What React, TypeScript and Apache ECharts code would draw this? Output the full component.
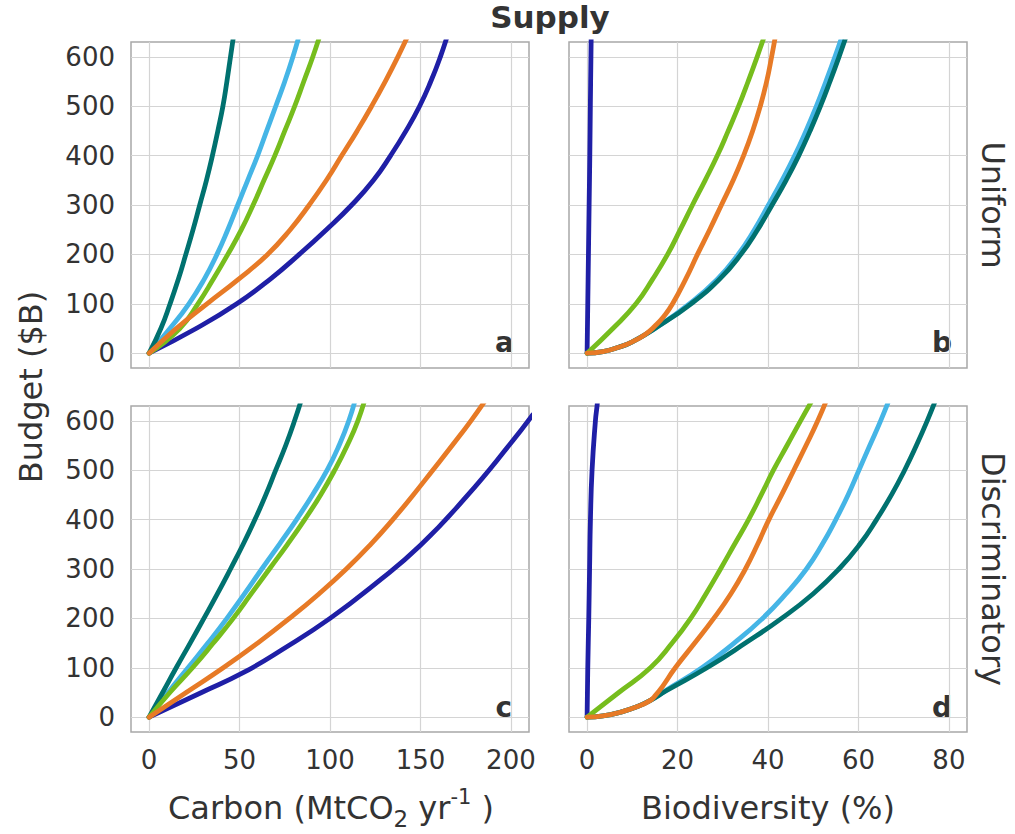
import React, { useEffect, useRef } from "react";
import * as echarts from "echarts";

// ---------- tick labels ----------
const carbonTicks = [0, 50, 100, 150, 200];
const bioTicks = [0, 20, 40, 60, 80];
const budgetTicks = [0, 100, 200, 300, 400, 500, 600];

// ---------- series names / colours ----------
const seriesKeys = ["blue", "sky", "teal", "green", "orange"];
const seriesColors: Record<string, string> = {
  blue: "#1f1fa6",
  sky: "#45b5e6",
  teal: "#00716f",
  green: "#76bd1d",
  orange: "#e77a26",
};

// ---------- panel a: Carbon, Uniform  [carbon, budget] ----------
const aBlue = [[0,0],[26,50],[48.5,100],[67,150],[83,200],[98,250],[112,300],[124,350],[133.5,400],[142,450],[149.5,500],[155.7,550],[161,600],[165.5,650]];
const aSky = [[0,0],[11.5,50],[22,100],[30.5,150],[37.5,200],[43.5,250],[49,300],[54.5,350],[60,400],[65,450],[70,500],[75,550],[79.5,600],[83.5,650]];
const aTeal = [[0,0],[6.5,50],[11.6,100],[16.2,150],[20.3,200],[24.3,250],[28,300],[31.7,350],[35,400],[38,450],[40.8,500],[43,550],[45,600],[47,650]];
const aGreen = [[0,0],[17,50],[27,100],[35.5,150],[43.5,200],[51,250],[57.5,300],[63.5,350],[69.5,400],[75,450],[80.5,500],[85.5,550],[90.5,600],[95,650]];
const aOrange = [[0,0],[15,50],[32,100],[49.5,150],[65.5,200],[78,250],[88.5,300],[98,350],[106.5,400],[115,450],[123,500],[130.5,550],[137.5,600],[144,650]];

// ---------- panel b: Biodiversity, Uniform ----------
const bBlue = [[0,0],[0.15,100],[0.3,200],[0.45,300],[0.6,400],[0.72,500],[0.85,600],[0.92,650]];
const bSky = [[0,0],[3.5,3],[7,12],[10,23],[15,50],[22.6,100],[28.8,150],[33.4,200],[37,250],[40.1,300],[43.1,350],[45.9,400],[48.4,450],[50.7,500],[52.8,550],[54.8,600],[56.7,650]];
const bTeal = [[0,0],[3.5,3],[7,12],[10,23],[15,50],[23,100],[29.3,150],[34,200],[37.7,250],[40.9,300],[44,350],[46.8,400],[49.3,450],[51.6,500],[53.7,550],[55.7,600],[57.6,650]];
const bGreen = [[0,0],[5.7,50],[10.8,100],[14.5,150],[17.8,200],[20.6,250],[23.3,300],[26.1,350],[28.8,400],[31.2,450],[33.5,500],[35.6,550],[37.6,600],[39.5,650]];
const bOrange = [[0,0],[3.5,3],[7,12],[10,23],[13,39],[15,55],[17,75],[18.9,100],[21.8,150],[24.4,200],[27.1,250],[29.7,300],[32.3,350],[34.6,400],[36.6,450],[38.3,500],[39.7,550],[40.8,600],[41.8,650]];

// ---------- panel c: Carbon, Discriminatory ----------
const cBlue = [[0,0],[29,50],[52,90],[75,140],[100,200],[125,270],[150,348],[175,445],[200,555],[212,612]];
const cSky = [[0,0],[10.5,50],[21.5,100],[32.5,150],[43,200],[52.8,250],[62.3,300],[72,350],[81.5,400],[90.3,450],[98.4,500],[105,550],[110.4,600],[114.5,650]];
const cTeal = [[0,0],[7.5,50],[15,100],[22.7,150],[30.3,200],[37.8,250],[45,300],[52,350],[58.5,400],[64.5,450],[70,500],[75.5,550],[80.4,600],[84.8,650]];
const cGreen = [[0,0],[11.5,50],[24,100],[35.5,150],[46.5,200],[56.5,250],[66.5,300],[76.5,350],[86,400],[94.8,450],[102.6,500],[109.5,550],[115.4,600],[119.8,650]];
const cOrange = [[0,0],[20.5,50],[41,100],[60,150],[77.6,200],[94,250],[109,300],[122.5,350],[134.7,400],[146,450],[156.8,500],[167.5,550],[177.9,600],[187.5,650]];

// ---------- panel d: Biodiversity, Discriminatory ----------
const dBlue = [[0,0],[0.15,100],[0.37,200],[0.55,300],[0.74,400],[1.1,500],[1.84,600],[2.2,630],[2.4,650]];
const dSky = [[0,0],[3.5,2.5],[7.3,10],[11,21],[14,34],[17.4,54],[25.4,100],[32.5,150],[38.8,200],[44,250],[48.5,300],[52,350],[55,400],[57.7,450],[60.1,500],[62.5,550],[64.9,600],[67.1,650]];
const dTeal = [[0,0],[3.5,2.5],[7.3,10],[11,21],[14,34],[17.6,54],[26.5,100],[35,150],[43,200],[50,250],[55.7,300],[60.3,350],[64,400],[67.3,450],[70.2,500],[72.8,550],[75.2,600],[77.4,650]];
const dGreen = [[0,0],[7,50],[14,100],[18.8,150],[22.9,200],[26.3,250],[29.5,300],[32.6,350],[35.7,400],[38.5,450],[41.2,500],[44.2,550],[47.2,600],[50.3,650]];
const dOrange = [[0,0],[3.5,2.5],[7.3,10],[11,21],[14,34],[15.2,45],[16.5,60],[19.5,100],[23.8,150],[28,200],[31.8,250],[35,300],[37.7,350],[40.2,400],[43,450],[45.7,500],[48.4,550],[51,600],[53.3,650]];

const panelData = [
  { blue: aBlue, sky: aSky, teal: aTeal, green: aGreen, orange: aOrange },
  { blue: bBlue, sky: bSky, teal: bTeal, green: bGreen, orange: bOrange },
  { blue: cBlue, sky: cSky, teal: cTeal, green: cGreen, orange: cOrange },
  { blue: dBlue, sky: dSky, teal: dTeal, green: dGreen, orange: dOrange },
];

const FONT = "DejaVu Sans";
const TXT = "#333333";
const GRID_COLOR = "#d4d4d4";

const gridBoxes = [
  { left: 131, top: 42 },
  { left: 569, top: 42 },
  { left: 131, top: 406 },
  { left: 569, top: 406 },
];
const GW = 398;
const GH = 326;

function cycleColors(period: number, offset: number) {
  const arr: string[] = [];
  for (let i = 0; i < period; i++) arr.push(i === offset ? GRID_COLOR : "rgba(0,0,0,0)");
  return arr;
}

export default function App() {
  const ref = useRef<HTMLDivElement>(null);

  useEffect(() => {
    if (!ref.current) return;
    const chart = echarts.init(ref.current, undefined, { renderer: "svg" });

    const grids = gridBoxes.map((g) => ({
      left: g.left,
      top: g.top,
      width: GW,
      height: GH,
      show: true,
      borderColor: "#a8a8a8",
      borderWidth: 1.5,
      backgroundColor: "rgba(0,0,0,0)",
      containLabel: false,
    }));

    const xAxes = [0, 1, 2, 3].map((i) => {
      const isCarbon = i % 2 === 0;
      const bottom = i >= 2;
      const ticks = isCarbon ? carbonTicks : bioTicks;
      return {
        type: "value",
        gridIndex: i,
        min: isCarbon ? -10 : -4,
        max: isCarbon ? 210 : 84,
        interval: isCarbon ? 10 : 4,
        axisLine: { show: false },
        axisTick: { show: false },
        axisLabel: {
          show: bottom,
          margin: 15,
          fontSize: 26,
          fontFamily: FONT,
          color: TXT,
          showMinLabel: true,
          showMaxLabel: true,
          formatter: (v: number) => (ticks.indexOf(Math.round(v * 1000) / 1000) >= 0 ? String(Math.round(v)) : ""),
        },
        splitLine: {
          show: true,
          lineStyle: { color: cycleColors(5, 1), width: 1.2 },
        },
      };
    });

    const yAxes = [0, 1, 2, 3].map((i) => {
      const left = i % 2 === 0;
      return {
        type: "value",
        gridIndex: i,
        min: -30,
        max: 630,
        interval: 10,
        axisLine: { show: false },
        axisTick: { show: false },
        axisLabel: {
          show: left,
          margin: 16,
          fontSize: 26,
          fontFamily: FONT,
          color: TXT,
          formatter: (v: number) => (budgetTicks.indexOf(Math.round(v)) >= 0 ? String(Math.round(v)) : ""),
        },
        splitLine: {
          show: true,
          lineStyle: { color: cycleColors(10, 3), width: 1.2 },
        },
      };
    });

    const series: any[] = [];
    panelData.forEach((pd: any, i) => {
      seriesKeys.forEach((k) => {
        series.push({
          type: "line",
          name: k,
          xAxisIndex: i,
          yAxisIndex: i,
          data: pd[k],
          showSymbol: false,
          smooth: 0.5,
          clip: true,
          lineStyle: { color: seriesColors[k], width: 4.8, cap: "round", join: "round" },
          itemStyle: { color: seriesColors[k] },
          silent: true,
        });
      });
    });

    const txt = (text: string, x: number, y: number, size: number, opts: any = {}) => ({
      type: "text",
      x,
      y,
      rotation: opts.rotation || 0,
      silent: true,
      style: {
        text,
        fontSize: size,
        fontFamily: FONT,
        fontWeight: opts.bold ? "bold" : "normal",
        fill: TXT,
        align: opts.align || "center",
        textAlign: opts.align || "center",
        verticalAlign: "middle",
        textVerticalAlign: "middle",
      },
    });

    const rich = {
      m: { fontSize: 32, fontFamily: FONT, fill: TXT, lineHeight: 44, verticalAlign: "middle" },
      s: { fontSize: 23, fontFamily: FONT, fill: TXT, lineHeight: 22, verticalAlign: "bottom" },
      p: { fontSize: 21, fontFamily: FONT, fill: TXT, lineHeight: 24, verticalAlign: "top" },
    };

    const graphic = [
      txt("Supply", 550, 17, 31, { bold: true }),
      txt("Budget ($B)", 31, 387, 32, { rotation: Math.PI / 2 }),
      txt("Uniform", 993, 205, 32, { rotation: -Math.PI / 2 }),
      txt("Discriminatory", 993, 569, 32, { rotation: -Math.PI / 2 }),
      txt("a", 514, 342, 28, { bold: true, align: "right" }),
      txt("b", 952, 342, 28, { bold: true, align: "right" }),
      txt("c", 512, 707, 28, { bold: true, align: "right" }),
      txt("d", 952, 707, 28, { bold: true, align: "right" }),
      {
        type: "text",
        x: 331,
        y: 808,
        silent: true,
        style: {
          text: "{m|Carbon (MtCO}{s|2}{m| yr}{p|-1}{m| )}",
          rich,
          fontSize: 32,
          fontFamily: FONT,
          fill: TXT,
          align: "center",
          textAlign: "center",
          verticalAlign: "middle",
          textVerticalAlign: "middle",
        },
      },
      txt("Biodiversity (%)", 768, 808, 32),
    ];

    chart.setOption({
      animation: false,
      backgroundColor: "#ffffff",
      grid: grids,
      xAxis: xAxes,
      yAxis: yAxes,
      series,
      graphic,
    });

    return () => chart.dispose();
  }, []);

  return (
    <div
      ref={ref}
      style={{ position: "absolute", left: 0, top: 0, width: 1015, height: 834 }}
    />
  );
}
